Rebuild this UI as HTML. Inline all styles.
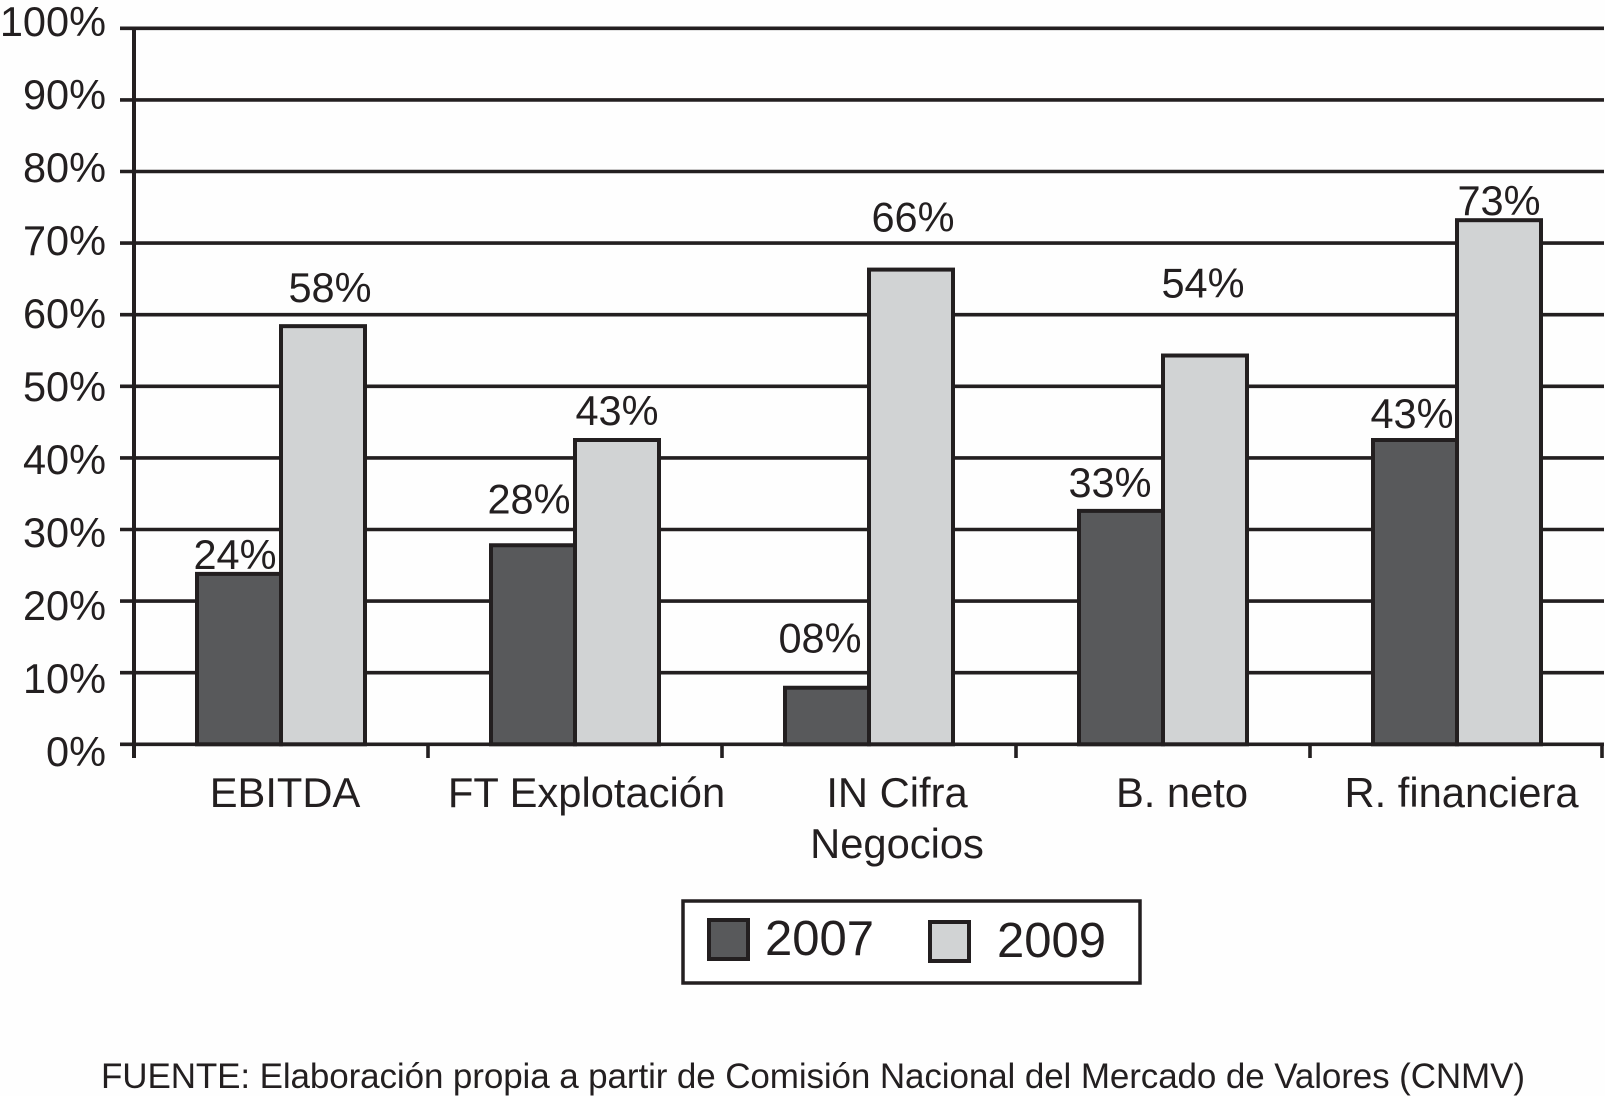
<!DOCTYPE html>
<html lang="es">
<head>
<meta charset="utf-8">
<title>EBITDA chart</title>
<style>
html,body{margin:0;padding:0;background:#fff;}
svg{display:block;}
text{font-family:"Liberation Sans",Arial,sans-serif;fill:#231f20;}
</style>
</head>
<body>
<svg id="chart" xmlns="http://www.w3.org/2000/svg" width="1605" height="1096" viewBox="0 0 1605 1096">
  <rect x="0" y="0" width="1605" height="1096" fill="#fefefe"/>
  <g id="grid"></g>
  <g id="bars"></g>
  <g id="axes"></g>
  <g id="labels"></g>
  <g>
    <rect x="683" y="901" width="457" height="82" fill="#fff" stroke="#231f20" stroke-width="3.5"/>
    <rect x="709" y="920" width="39" height="39" fill="#58595b" stroke="#231f20" stroke-width="4"/>
    <text x="765" y="955" font-size="49">2007</text>
    <rect x="930" y="922" width="39" height="39" fill="#d1d3d4" stroke="#231f20" stroke-width="4"/>
    <text x="997" y="957" font-size="49">2009</text>
  </g>
  <text x="101" y="1088" font-size="35" textLength="1424" lengthAdjust="spacing">FUENTE: Elaboración propia a partir de Comisión Nacional del Mercado de Valores (CNMV)</text>
</svg>
<script>
const categories = ['EBITDA', 'FT Explotación', 'IN Cifra|Negocios', 'B. neto', 'R. financiera'];
const values2007 = [23.8, 27.8, 7.9, 32.6, 42.5];
const values2009 = [58.4, 42.5, 66.3, 54.3, 73.2];
const labels2007 = ['24%', '28%', '08%', '33%', '43%'];
const labels2009 = ['58%', '43%', '66%', '54%', '73%'];
const yTicks = [0, 10, 20, 30, 40, 50, 60, 70, 80, 90, 100];

const NS = 'http://www.w3.org/2000/svg';
const plotLeft = 134, plotRight = 1604, y0 = 744.3, y100 = 28.3;
const bandWidth = (plotRight - plotLeft) / categories.length;
const barWidth = 84, barInset = 63;
const yScale = v => y0 - (v / 100) * (y0 - y100);
const xBand = i => plotLeft + i * bandWidth;
const tickLabelY = v => 766 - v * 7.3;

// Layout nudges for hand-placed annotations in the source figure
const nudge2007 = [[-4, 5], [-4, 32], [-7, 35], [-11, 14], [-3, 12]];
const nudge2009 = [[7, 24], [0, 15], [2, 38], [-2, 58], [0, 5]];
const catNudge = [4, 11.5, 28, 19, 4.5];

function mk(tag, attrs, parent, txt) {
  const e = document.createElementNS(NS, tag);
  for (const k in attrs) e.setAttribute(k, attrs[k]);
  if (txt !== undefined) e.textContent = txt;
  parent.appendChild(e);
  return e;
}
const grid = document.getElementById('grid');
const barsG = document.getElementById('bars');
const axes = document.getElementById('axes');
const labelsG = document.getElementById('labels');

yTicks.forEach(v => {
  const y = yScale(v);
  const line = mk('line', {x1: 120, x2: plotRight, y1: y, y2: y, stroke: '#231f20', 'stroke-width': 3.6}, v === 0 ? axes : grid);
  
  
  const t = mk('text', {x: 106, y: tickLabelY(v), 'font-size': 41.5, 'text-anchor': 'end'}, axes, v + '%');
  
  
});

const yAxis = mk('line', {x1: plotLeft, x2: plotLeft, y1: y100 - 1.8, y2: 758, stroke: '#231f20', 'stroke-width': 4}, axes);



for (let i = 1; i <= categories.length; i++) {
  const x = i === categories.length ? plotRight - 2 : xBand(i);
  const tick = mk('line', {x1: x, x2: x, y1: y0, y2: 758, stroke: '#231f20', 'stroke-width': 3.6}, axes);
  
  
}

function drawBar(i, value, offset, fill, series) {
  const top = yScale(value);
  const r = mk('rect', {x: xBand(i) + barInset + offset, y: top, width: barWidth, height: y0 - top, fill: fill, stroke: '#231f20', 'stroke-width': 4}, barsG);
  
  
}
function drawLabel(i, value, offset, text, nudge, series) {
  const t = mk('text', {x: xBand(i) + barInset + offset + barWidth / 2 + nudge[0], y: yScale(value) - nudge[1], 'font-size': 41.5, 'text-anchor': 'middle'}, labelsG, text);
  
  
}

categories.forEach((c, i) => {
  drawBar(i, values2007[i], 0, '#58595b', '2007');
  drawBar(i, values2009[i], barWidth, '#d1d3d4', '2009');
  drawLabel(i, values2007[i], 0, labels2007[i], nudge2007[i], '2007');
  drawLabel(i, values2009[i], barWidth, labels2009[i], nudge2009[i], '2009');
  c.split('|').forEach((part, j) => {
    const t = mk('text', {x: xBand(i) + bandWidth / 2 + catNudge[i], y: 807 + j * 51, 'font-size': 41.7, 'text-anchor': 'middle'}, axes, part);
    
    
  });
});
</script>
</body>
</html>
